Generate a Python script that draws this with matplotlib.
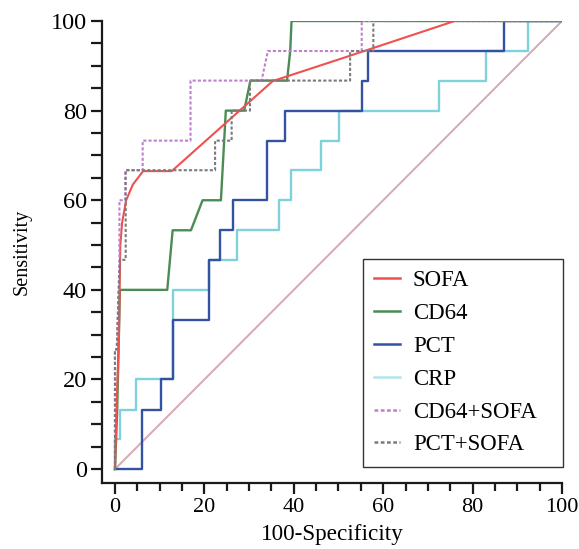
import matplotlib
matplotlib.use("Agg")
import matplotlib.pyplot as plt
from matplotlib.ticker import MultipleLocator

plt.rcParams['font.family'] = ['Liberation Serif', 'DejaVu Serif']

# ---- data (100-Specificity, Sensitivity) ----
sofa_x = [0, 0.4, 0.9, 1.2, 1.6, 2.5, 4.0, 6.3, 12.7, 35.3, 50.3, 76.0, 100]
sofa_y = [0, 15, 30, 50, 55, 60, 63.5, 66.5, 66.5, 86.6, 91.5, 100, 100]

cd64_x = [0, 0.5, 1.1, 11.7, 12.9, 17.0, 19.6, 23.7, 24.8, 28.9, 30.3, 38.5, 39.2, 39.5, 100]
cd64_y = [0, 13.3, 40, 40, 53.3, 53.3, 60, 60, 80, 80, 86.7, 86.7, 93.3, 100, 100]

pct_x = [0, 6.1, 6.1, 10.3, 10.3, 12.9, 12.9, 21.0, 21.0, 23.5, 23.5, 26.3, 26.3, 34.0, 34.0, 38.0, 38.0, 55.2, 55.2, 56.7, 56.7, 87.0, 87.0, 100]
pct_y = [0, 0, 13.3, 13.3, 20, 20, 33.3, 33.3, 46.7, 46.7, 53.3, 53.3, 60, 60, 73.3, 73.3, 80, 80, 86.7, 86.7, 93.3, 93.3, 100, 100]

crp_x = [0, 0, 1.1, 1.1, 4.8, 4.8, 12.9, 12.9, 21.0, 21.0, 27.4, 27.4, 36.7, 36.7, 39.4, 39.4, 46.0, 46.0, 50.1, 50.1, 72.5, 72.5, 83.0, 83.0, 92.3, 92.3, 100]
crp_y = [0, 6.7, 6.7, 13.3, 13.3, 20, 20, 40, 40, 46.7, 46.7, 53.3, 53.3, 60, 60, 66.7, 66.7, 73.3, 73.3, 80, 80, 86.7, 86.7, 93.3, 93.3, 100, 100]

cd64_sofa_x = [0, 0, 0.4, 1.0, 1.0, 2.3, 2.3, 6.2, 6.2, 16.9, 16.9, 32.8, 34.2, 55.2, 55.2, 100]
cd64_sofa_y = [0, 26.7, 26.7, 46.7, 60, 60, 66.7, 66.7, 73.3, 73.3, 86.7, 86.7, 93.3, 93.3, 100, 100]

pct_sofa_x = [0, 0, 0.4, 1.1, 2.4, 2.4, 22.4, 22.4, 26.1, 26.1, 30.2, 30.2, 52.6, 52.6, 57.8, 57.8, 100]
pct_sofa_y = [0, 26.7, 26.7, 46.7, 46.7, 66.7, 66.7, 73.3, 73.3, 80, 80, 86.7, 86.7, 93.3, 93.3, 100, 100]

ref_x = [0, 100]
ref_y = [0, 100]

x_ticks = [0, 20, 40, 60, 80, 100]
y_ticks = [0, 20, 40, 60, 80, 100]

# ---- figure ----
fig = plt.figure(figsize=(5.79, 5.49), dpi=100)
ax = fig.add_axes([102/579, 1-483/549, (562-102)/579, (483-21)/549])

ax.plot(ref_x, ref_y, color='#d6a9b0', lw=1.4, zorder=1)
ax.plot(crp_x, crp_y, color='#7fd2dc', lw=1.7, label='CRP', zorder=2)
ax.plot(pct_x, pct_y, color='#3452a2', lw=1.7, label='PCT', zorder=3)
ax.plot(cd64_x, cd64_y, color='#4b8c55', lw=1.7, label='CD64', zorder=4)
ax.plot(sofa_x, sofa_y, color='#f05050', lw=1.5, label='SOFA', zorder=5)
ax.plot(cd64_sofa_x, cd64_sofa_y, color='#c07fcf', lw=1.5, ls=(0, (1.5, 1)), label='CD64+SOFA', zorder=6)
ax.plot(pct_sofa_x, pct_sofa_y, color='#7a7a7a', lw=1.5, ls=(0, (1.5, 1)), label='PCT+SOFA', zorder=7)

ax.set_xlim(-2.9, 100)
ax.set_ylim(-3.1, 100)
ax.set_xticks(x_ticks)
ax.set_yticks(y_ticks)
ax.xaxis.set_minor_locator(MultipleLocator(5))
ax.yaxis.set_minor_locator(MultipleLocator(5))

for s in ['top', 'right']:
    ax.spines[s].set_visible(False)
for s in ['left', 'bottom']:
    ax.spines[s].set_linewidth(1.6)
    ax.spines[s].set_color('#1a1a1a')

ax.tick_params(which='major', length=8, width=1.6, color='#1a1a1a', pad=3)
ax.tick_params(axis='x', which='major', labelsize=16)
ax.tick_params(axis='y', which='major', labelsize=17.5)
ax.tick_params(which='minor', length=6, width=1.6, color='#1a1a1a')
ax.tick_params(axis='y', which='minor', length=8)

ax.set_xlabel('100-Specificity', fontsize=16.7, labelpad=5)
ax.set_ylabel('Sensitivity', fontsize=14.5, labelpad=14)

handles, labels = ax.get_legend_handles_labels()
order = ['SOFA', 'CD64', 'PCT', 'CRP', 'CD64+SOFA', 'PCT+SOFA']
hmap = dict(zip(labels, handles))
leg = ax.legend([hmap[k] for k in order], order, loc='lower left',
                bbox_to_anchor=(0.567, 0.035, 0.436, 0.444), mode='expand',
                borderaxespad=0,
                fancybox=False, edgecolor='#333333', fontsize=16.4,
                handlelength=1.15, handletextpad=0.55, labelspacing=0.52,
                borderpad=0.5, framealpha=1)
leg.get_frame().set_linewidth(1.0)
for line in leg.get_lines():
    line.set_linewidth(1.8)
leg.get_lines()[3].set_color('#b5e4ec')

fig.savefig('out.png', dpi=100)
